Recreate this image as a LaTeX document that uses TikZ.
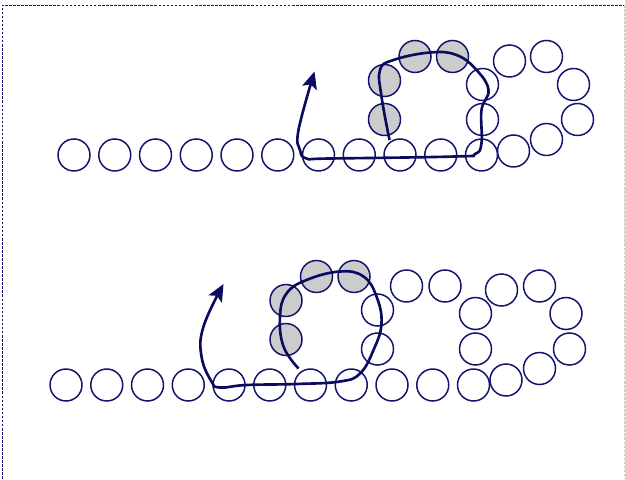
\documentclass[tikz,border=0pt]{standalone}
\usetikzlibrary{arrows.meta}
\definecolor{beadblue}{RGB}{20,20,110}
\definecolor{chainblue}{RGB}{10,10,95}
\definecolor{beadgrey}{RGB}{204,204,204}
\tikzset{
  bead/.style={circle,draw=beadblue,line width=0.85pt,minimum size=0.64cm,inner sep=0pt},
  hotbead/.style={bead,fill=beadgrey},
  chain/.style={draw=chainblue,line width=1.5pt},
}
\begin{document}
\begin{tikzpicture}[>={Stealth[length=3.4mm,width=3mm,inset=0.7mm]}]
\useasboundingbox (0,0) rectangle (12.5,9.58);
% frame
\draw[beadblue,line width=0.5pt,dash pattern=on 1.5pt off 0.8pt] (0.04,0) -- (0.04,9.48) -- (12.48,9.48);
\draw[beadgrey,line width=0.5pt,dash pattern=on 1.5pt off 0.8pt] (12.48,9.48) -- (12.48,0);

% upper strand
\foreach \i in {0,...,10}
	\node[bead] (t\i) at ({1.48+0.815*\i},6.48) {};
\node[hotbead] (tg1) at (7.69,7.19) {};
\node[hotbead] (tg2) at (7.69,7.97) {};
\node[hotbead] (tg3) at (8.30,8.45) {};
\node[hotbead] (tg4) at (9.05,8.45) {};
\node[bead] (tw1) at (9.65,7.89) {};
\node[bead] (tw2) at (9.65,7.19) {};
\node[bead] (tw3) at (10.19,8.36) {};
\node[bead] (tw4) at (10.93,8.45) {};
\node[bead] (tw5) at (11.47,7.89) {};
\node[bead] (tw6) at (11.55,7.19) {};
\node[bead] (tw7) at (10.93,6.79) {};
\node[bead] (tw8) at (10.27,6.56) {};
\draw[chain,->] plot[smooth,tension=0.7] coordinates {(7.79,6.78) (7.63,7.65) (7.60,8.18) (7.87,8.38) (8.60,8.53) (9.13,8.48) (9.53,8.18) (9.77,7.78) (9.63,7.38) (9.63,6.72) (9.50,6.50) (9.10,6.45) (6.60,6.41) (6.13,6.41) (6.00,6.58) (5.97,6.98) (6.29,8.15)};

% lower strand
\foreach \i in {0,...,10}
	\node[bead] (b\i) at ({1.32+0.815*\i},1.88) {};
\node[hotbead] (bg1) at (5.72,2.79) {};
\node[hotbead] (bg2) at (5.72,3.57) {};
\node[hotbead] (bg3) at (6.33,4.05) {};
\node[hotbead] (bg4) at (7.08,4.05) {};
\node[bead] (bw1) at (7.55,3.38) {};
\node[bead] (bw2) at (7.55,2.60) {};
\node[bead] (bw3) at (8.13,3.86) {};
\node[bead] (bw4) at (8.90,3.86) {};
\node[bead] (bw5) at (9.51,3.31) {};
\node[bead] (bw6) at (9.51,2.60) {};
\node[bead] (bw7) at (10.03,3.78) {};
\node[bead] (bw8) at (10.79,3.86) {};
\node[bead] (bw9) at (11.32,3.31) {};
\node[bead] (bw10) at (11.39,2.60) {};
\node[bead] (bw11) at (10.79,2.21) {};
\node[bead] (bw12) at (10.12,1.98) {};
\draw[chain,->] plot[smooth,tension=0.7] coordinates {(5.97,2.21) (5.67,2.65) (5.60,3.25) (5.73,3.71) (6.13,3.98) (6.80,4.15) (7.27,4.05) (7.53,3.65) (7.63,3.11) (7.47,2.58) (7.20,2.11) (6.80,1.95) (5.93,1.90) (4.93,1.88) (4.40,1.83) (4.23,1.95) (4.03,2.45) (4.07,3.05) (4.47,3.90)};
\end{tikzpicture}
\end{document}
